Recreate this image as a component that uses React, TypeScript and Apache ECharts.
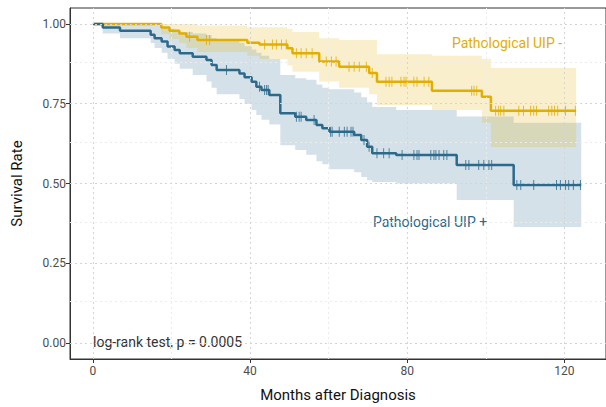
import React, { useEffect, useRef } from "react";
import * as echarts from "echarts";

// Axis ticks
const xTicks = [0, 40, 80, 120];
const xMinor = [20, 60, 100];
const yTicks = [0, 0.25, 0.5, 0.75, 1];
const yMinor = [0.125, 0.375, 0.625, 0.875];

// Pathological UIP - (yellow)
const timeNeg = [0, 17.4, 19.5, 22, 23.8, 26.6, 39.3, 42.4, 49.5, 50.8, 57.6, 62.7, 70.3, 72.3, 86.3, 99, 101.3];
const survNeg = [1, 0.989, 0.979, 0.97, 0.96, 0.95, 0.941, 0.936, 0.924, 0.908, 0.882, 0.866, 0.846, 0.819, 0.791, 0.772, 0.728];
const upperNeg = [1, 1, 1, 1, 1, 0.995, 0.99, 0.99, 0.985, 0.975, 0.955, 0.95, 0.95, 0.905, 0.9, 0.89, 0.862];
const lowerNeg = [1, 0.968, 0.953, 0.94, 0.925, 0.912, 0.9, 0.89, 0.87, 0.85, 0.82, 0.8, 0.78, 0.745, 0.73, 0.69, 0.614];
const endNeg = 123;
const censNeg = [24.6, 28.9, 29.7, 43.7, 45.7, 46.7, 48, 49.2, 51.8, 53, 54.3, 55.8, 59.4, 60.7, 61.9, 65.2, 66.5, 67.8, 69.6,
  71.1, 74.6, 75.4, 76.1, 78.4, 79.2, 79.7, 81.7, 82.5, 84.3, 85.5, 96.4, 97, 97.7, 102.5, 103.3, 103.8, 104.6, 108.4, 109.6,
  111.4, 112.2, 112.9, 116, 116.8, 117.5, 118.3, 120.3, 122.8];

// Pathological UIP + (blue)
const timePos = [0, 2.5, 6.9, 14.7, 15.7, 17.5, 19, 20.8, 22.1, 25.4, 28.9, 30.2, 31.5, 37.3, 38.6, 40.4, 41.6, 42.9, 44.9,
  47.7, 51.5, 54.3, 56.9, 58.4, 60.2, 66.5, 68.3, 69.8, 71.1, 77.2, 92.6, 107.1];
const survPos = [1, 0.989, 0.979, 0.966, 0.955, 0.945, 0.929, 0.918, 0.908, 0.897, 0.887, 0.871, 0.856, 0.845, 0.833, 0.819,
  0.803, 0.793, 0.777, 0.72, 0.709, 0.699, 0.683, 0.673, 0.662, 0.652, 0.636, 0.615, 0.595, 0.589, 0.558, 0.495];
const upperPos = [1, 1, 1, 1, 0.995, 0.99, 0.985, 0.98, 0.975, 0.97, 0.965, 0.955, 0.95, 0.94, 0.93, 0.92, 0.91, 0.9, 0.89,
  0.84, 0.83, 0.825, 0.81, 0.8, 0.795, 0.785, 0.77, 0.755, 0.74, 0.73, 0.71, 0.69];
const lowerPos = [1, 0.97, 0.955, 0.94, 0.925, 0.91, 0.89, 0.875, 0.86, 0.84, 0.82, 0.8, 0.78, 0.765, 0.75, 0.73, 0.715, 0.7,
  0.685, 0.62, 0.605, 0.59, 0.57, 0.56, 0.545, 0.535, 0.52, 0.51, 0.505, 0.5, 0.448, 0.364];
const endPos = 124.3;
const censPos = [34, 42.4, 43.7, 44.2, 44.6, 51.8, 52.5, 53, 56.3, 60.5, 60.9, 62.7, 64, 64.7, 65.7, 66.2, 69, 70.3, 72.3, 74,
  75.4, 78.7, 81.7, 82.5, 83, 86, 86.8, 87.3, 88.1, 89.3, 90.1, 94.9, 95.7, 98.2, 99.5, 100.8, 101.5, 107.9, 108.9, 112.2,
  118, 119, 120.3, 121.1, 122.3, 124.1];

const YELLOW = "#E2AE00";
const BLUE = "#2C6A8C";
const FONT = "Roboto";

function survAt(times: number[], surv: number[], t: number) {
  let v = surv[0];
  for (let i = 0; i < times.length; i++) if (times[i] <= t) v = surv[i];
  return v;
}

function stepLine(times: number[], surv: number[], end: number) {
  const d = times.map((t, i) => [t, surv[i]]);
  d.push([end, surv[surv.length - 1]]);
  return d;
}

function bandSeries(times: number[], lower: number[], upper: number[], end: number, color: string) {
  return {
    type: "custom",
    silent: true,
    z: 1,
    data: [[0, 0]],
    renderItem: (_params: any, api: any) => {
      const pts: number[][] = [];
      const n = times.length;
      for (let i = 0; i < n; i++) {
        const t1 = i < n - 1 ? times[i + 1] : end;
        pts.push(api.coord([times[i], upper[i]]), api.coord([t1, upper[i]]));
      }
      for (let i = n - 1; i >= 0; i--) {
        const t1 = i < n - 1 ? times[i + 1] : end;
        pts.push(api.coord([t1, lower[i]]), api.coord([times[i], lower[i]]));
      }
      return { type: "polygon", shape: { points: pts }, style: { fill: color, opacity: 0.2 } };
    },
  };
}

export default function App() {
  const ref = useRef<HTMLDivElement>(null);
  useEffect(() => {
    const chart = echarts.init(ref.current!, undefined, { renderer: "svg" });
    const gridMark = (vals: number[], axis: string, color: string) =>
      vals.map((v) => ({ [axis]: v, lineStyle: { color, type: [2, 3], width: 1 } }));
    chart.setOption({
      animation: false,
      textStyle: { fontFamily: FONT },
      grid: { left: 70, top: 8, right: -2, bottom: 48, show: true, borderColor: "#333", borderWidth: 1, backgroundColor: "transparent" },
      xAxis: {
        type: "value",
        min: -5.83,
        max: 130.6,
        name: "Months after Diagnosis",
        nameLocation: "middle",
        nameGap: 28,
        nameTextStyle: { fontSize: 15, color: "#111", fontFamily: FONT },
        axisLine: { show: true, onZero: false, lineStyle: { color: "#333", width: 1 } },
        axisTick: { show: true, customValues: xTicks, length: 4, lineStyle: { color: "#333" } },
        axisLabel: { customValues: xTicks, color: "#4d4d4d", fontSize: 12, margin: 6, fontFamily: FONT },
        splitLine: { show: false },
      },
      yAxis: {
        type: "value",
        min: -0.05,
        max: 1.05,
        name: "Survival Rate",
        nameLocation: "middle",
        nameGap: 46,
        nameTextStyle: { fontSize: 15, color: "#111", fontFamily: FONT },
        axisLine: { show: true, onZero: false, lineStyle: { color: "#333", width: 1 } },
        axisTick: { show: true, customValues: yTicks, length: 4, lineStyle: { color: "#333" } },
        axisLabel: { customValues: yTicks, color: "#4d4d4d", fontSize: 12, margin: 4, fontFamily: FONT, formatter: (v: number) => v.toFixed(2) },
        splitLine: { show: false },
      },
      graphic: [
        { type: "text", left: 93, top: 335, style: { text: "log-rank test, p = 0.0005", fill: "#333", fontSize: 14, fontFamily: FONT } },
        { type: "text", x: 507, y: 43, style: { text: "Pathological UIP -", fill: YELLOW, fontSize: 14, fontFamily: FONT, align: "center", verticalAlign: "middle" } },
        { type: "text", x: 430, y: 222, style: { text: "Pathological UIP +", fill: BLUE, fontSize: 14, fontFamily: FONT, align: "center", verticalAlign: "middle" } },
      ],
      series: [
        {
          type: "line",
          data: [],
          silent: true,
          z: 0,
          markLine: {
            silent: true,
            symbol: ["none", "none"],
            label: { show: false },
            data: [
              ...gridMark(xMinor, "xAxis", "#ececec"),
              ...gridMark(yMinor, "yAxis", "#ececec"),
              ...gridMark(xTicks, "xAxis", "#d4d4d4"),
              ...gridMark(yTicks, "yAxis", "#d4d4d4"),
            ],
          },
        },
        bandSeries(timePos, lowerPos, upperPos, endPos, BLUE),
        bandSeries(timeNeg, lowerNeg, upperNeg, endNeg, YELLOW),
        {
          type: "line",
          step: "end",
          data: stepLine(timeNeg, survNeg, endNeg),
          showSymbol: false,
          symbol: "none",
          lineStyle: { color: YELLOW, width: 2.5 },
          z: 3,
        },
        {
          type: "line",
          step: "end",
          data: stepLine(timePos, survPos, endPos),
          showSymbol: false,
          symbol: "none",
          lineStyle: { color: BLUE, width: 2.5 },
          z: 4,
        },
        {
          type: "scatter",
          data: censNeg.map((t) => [t, survAt(timeNeg, survNeg, t)]),
          symbol: "rect",
          symbolSize: [1, 10],
          itemStyle: { color: YELLOW },
          z: 5,
        },
        {
          type: "scatter",
          data: censPos.map((t) => [t, survAt(timePos, survPos, t)]),
          symbol: "rect",
          symbolSize: [1, 10],
          itemStyle: { color: BLUE },
          z: 5,
        },
      ],
    });
    return () => chart.dispose();
  }, []);
  return <div ref={ref} style={{ position: "fixed", left: 0, top: 0, width: 606, height: 407, background: "#fff" }} />;
}
